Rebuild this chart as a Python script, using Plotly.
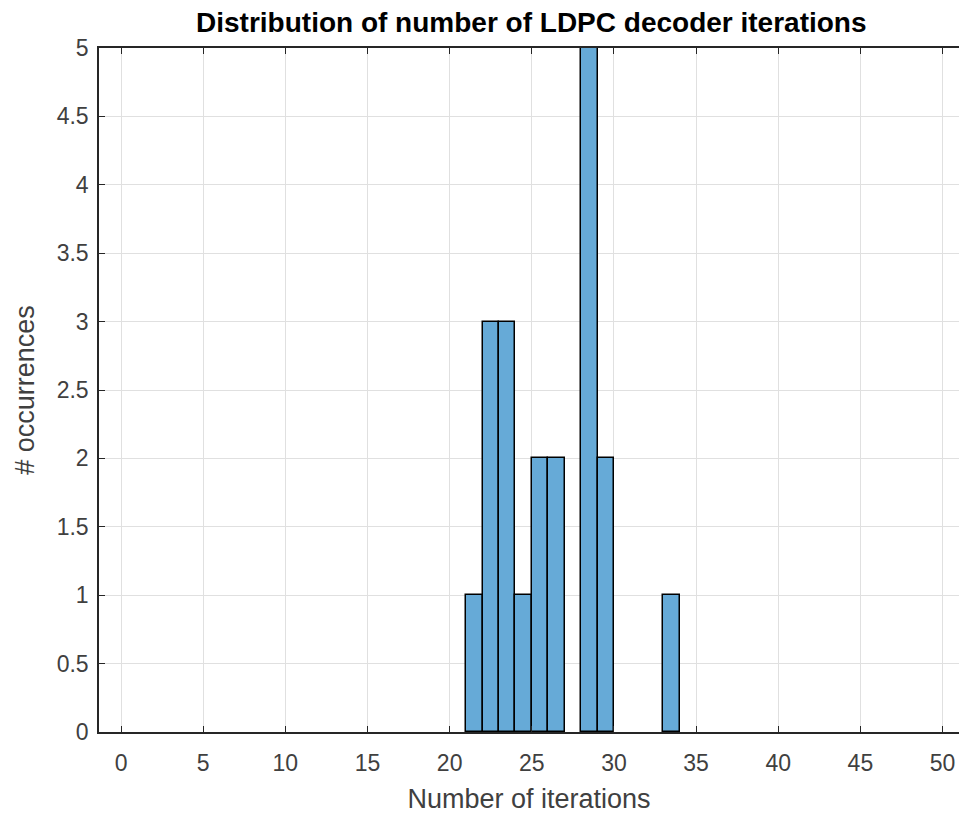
import plotly.graph_objects as go

bin_edges = [21, 22, 23, 24, 25, 26, 27, 28, 29, 30, 31, 32, 33, 34]
counts = [1, 3, 3, 1, 2, 2, 0, 5, 2, 0, 0, 0, 1]
x_ticks = [0, 5, 10, 15, 20, 25, 30, 35, 40, 45, 50]
y_ticks = [0, 0.5, 1, 1.5, 2, 2.5, 3, 3.5, 4, 4.5, 5]

centers = [(bin_edges[i] + bin_edges[i + 1]) / 2 for i in range(len(counts))]
widths = [bin_edges[i + 1] - bin_edges[i] for i in range(len(counts))]
heights = [c if c > 0 else None for c in counts]

FONT = "Liberation Sans, Arial, Helvetica"

fig = go.Figure()
fig.add_trace(go.Bar(
    x=centers, y=heights, width=widths,
    marker=dict(color="#66AAD7", line=dict(color="#000000", width=1.5)),
))

axis_common = dict(
    showline=True, linecolor="#262626", linewidth=1.5,
    ticks="inside", ticklen=6, tickcolor="#262626", tickwidth=1.3,
    showgrid=True, gridcolor="#E0E0E0", gridwidth=1,
    zeroline=False,
    tickfont=dict(family=FONT, size=23, color="#404040"),
)

fig.update_layout(
    width=959, height=814,
    margin=dict(l=99, r=0, t=48, b=82),
    paper_bgcolor="white", plot_bgcolor="white",
    showlegend=False,
    bargap=0,
    title=dict(text="<b>Distribution of number of LDPC decoder iterations</b>",
               x=0.554, xanchor="center", y=0.973, yanchor="middle",
               font=dict(family=FONT, size=28, color="#000000")),
    xaxis=dict(range=[-1.34, 51.0], tickvals=x_ticks, mirror="allticks",
               ticklabelstandoff=10,
               title=dict(text="Number of iterations", standoff=14,
                          font=dict(family=FONT, size=27, color="#404040")),
               **axis_common),
    yaxis=dict(range=[0, 5], tickvals=y_ticks,
               ticktext=[str(v) for v in [0, 0.5, 1, 1.5, 2, 2.5, 3, 3.5, 4, 4.5, 5]],
               mirror=False, ticklabelstandoff=4,
               title=dict(text="# occurrences", standoff=14,
                          font=dict(family=FONT, size=27, color="#404040")),
               **axis_common),
)

fig.write_html("out.html", config={"displayModeBar": False},
               post_script="document.body.style.margin='0';document.body.style.overflow='hidden';")
